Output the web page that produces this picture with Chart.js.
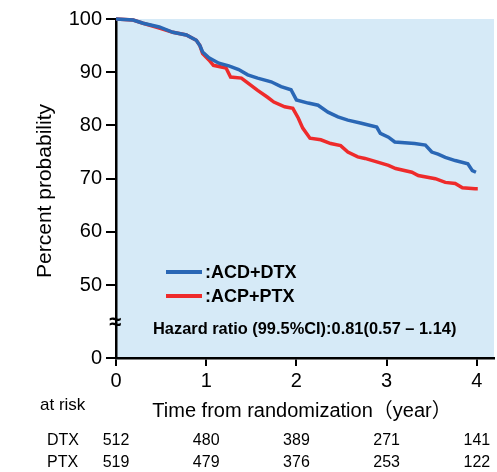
<!DOCTYPE html>
<html>
<head>
<meta charset="utf-8">
<script src="https://cdn.jsdelivr.net/npm/chart.js@4.4.0/dist/chart.umd.min.js"></script>
<style>
  html, body { margin: 0; padding: 0; background: #fff; }
  canvas { display: block; }
</style>
</head>
<body>
<canvas id="km" width="497" height="472"></canvas>
<script>
// Kaplan-Meier curves (time in years, percent surviving)
const dtxTimes = [0, 0.19, 0.30, 0.48, 0.63, 0.78, 0.89, 0.93, 0.96, 1.03, 1.14, 1.25, 1.36, 1.46, 1.57, 1.72, 1.83, 1.94, 2.00, 2.13, 2.24, 2.35, 2.46, 2.57, 2.72, 2.82, 2.89, 2.93, 3.02, 3.09, 3.31, 3.43, 3.50, 3.57, 3.65, 3.76, 3.90, 3.95, 3.99];
const dtxSurv  = [100, 99.8, 99.2, 98.5, 97.5, 97.0, 96.0, 95.0, 93.8, 92.7, 91.7, 91.2, 90.5, 89.5, 88.9, 88.2, 87.3, 86.7, 84.8, 84.2, 83.8, 82.5, 81.6, 81.0, 80.4, 80.0, 79.7, 78.5, 77.8, 76.9, 76.6, 76.3, 75.0, 74.6, 74.0, 73.4, 72.8, 71.5, 71.2];
const ptxTimes = [0, 0.19, 0.30, 0.48, 0.63, 0.78, 0.89, 0.93, 0.96, 1.03, 1.08, 1.22, 1.27, 1.39, 1.46, 1.57, 1.68, 1.75, 1.87, 1.96, 2.02, 2.07, 2.15, 2.27, 2.38, 2.49, 2.57, 2.68, 2.76, 2.90, 3.02, 3.10, 3.28, 3.35, 3.54, 3.65, 3.76, 3.84, 3.98, 4.01];
const ptxSurv  = [100, 99.8, 99.2, 98.3, 97.5, 97.0, 96.0, 95.0, 93.5, 92.3, 91.3, 90.8, 89.1, 88.9, 88.0, 86.6, 85.3, 84.4, 83.5, 83.2, 81.4, 79.5, 77.6, 77.3, 76.6, 76.2, 75.0, 74.1, 73.8, 73.1, 72.5, 71.9, 71.2, 70.6, 70.0, 69.3, 69.1, 68.3, 68.1, 68.1];

const xTicks = [0, 1, 2, 3, 4];
const yTicks = [50, 60, 70, 80, 90, 100];
const atRiskDTX = [512, 480, 389, 271, 141];
const atRiskPTX = [519, 479, 376, 253, 122];

const BREAK_ZERO = 36.3;   // where "0" sits below the axis break
const BREAK_MARK = 42.9;   // position of the break symbol
const FONT = '"Liberation Sans", Arial, sans-serif';
const BLUE = '#2a67b5';
const RED = '#ee2b2b';

function toPoints(t, s) {
    return t.map((x, i) => ({ x: x, y: s[i] }));
}

const plotBackground = {
    id: 'plotBackground',
    beforeDraw(chart) {
        const { ctx, chartArea: { left, top, right, bottom } } = chart;
        ctx.save();
        ctx.fillStyle = '#d6eaf7';
        ctx.fillRect(left, top, right - left, bottom - top);
        ctx.restore();
    }
};

const annotations = {
    id: 'annotations',
    afterDraw(chart) {
        const { ctx, scales: { x, y } } = chart;
        ctx.save();

        // legend inside plot
        ctx.lineWidth = 4;
        ctx.strokeStyle = BLUE;
        ctx.beginPath(); ctx.moveTo(166, 272); ctx.lineTo(202, 272); ctx.stroke();
        ctx.strokeStyle = RED;
        ctx.beginPath(); ctx.moveTo(166, 296); ctx.lineTo(202, 296); ctx.stroke();
        ctx.fillStyle = '#000';
        ctx.font = 'bold 18px ' + FONT;
        ctx.textAlign = 'left';
        ctx.textBaseline = 'middle';
        ctx.fillText(':ACD+DTX', 205, 273);
        ctx.fillText(':ACP+PTX', 205, 297);

        // hazard ratio
        ctx.font = 'bold 16.4px ' + FONT;
        ctx.fillText('Hazard ratio (99.5%CI):0.81(0.57 \u2013 1.14)', 153, 329);

        // axis break
        const by = y.getPixelForValue(BREAK_MARK);
        ctx.font = 'bold 22px ' + FONT;
        ctx.textAlign = 'center';
        ctx.fillText('\u2248', x.left - 1, by);

        // y title
        ctx.save();
        ctx.translate(45, 191);
        ctx.rotate(-Math.PI / 2);
        ctx.font = '21px ' + FONT;
        ctx.textAlign = 'center';
        ctx.fillText('Percent probability', 0, 0);
        ctx.restore();

        // x title
        ctx.font = '20px ' + FONT + ', "Noto Sans CJK JP"';
        ctx.textAlign = 'center';
        ctx.fillText('Time from randomization\uff08year\uff09', 302, 411);

        // at risk table
        ctx.font = '17px ' + FONT;
        ctx.textAlign = 'left';
        ctx.fillText('at risk', 40, 405);
        ctx.font = '16px ' + FONT;
        ctx.fillText('DTX', 47, 441);
        ctx.fillText('PTX', 47, 463);
        ctx.textAlign = 'center';
        xTicks.forEach((t, i) => {
            const px = x.getPixelForValue(t);
            ctx.fillText(String(atRiskDTX[i]), px, 441);
            ctx.fillText(String(atRiskPTX[i]), px, 463);
        });

        ctx.restore();
    }
};

const config = {
    type: 'line',
    data: {
        datasets: [
            {
                label: 'ACD+DTX',
                data: toPoints(dtxTimes, dtxSurv),
                borderColor: BLUE,
                borderWidth: 3.5,
                pointRadius: 0,
                tension: 0,
                fill: false,
                clip: 5
            },
            {
                label: 'ACP+PTX',
                data: toPoints(ptxTimes, ptxSurv),
                borderColor: RED,
                borderWidth: 3.5,
                pointRadius: 0,
                tension: 0,
                fill: false,
                clip: 5
            }
        ]
    },
    options: {
        responsive: false,
        animation: false,
        layout: { padding: { top: 19, right: 3, left: 0, bottom: 0 } },
        plugins: {
            legend: { display: false },
            tooltip: { enabled: false }
        },
        scales: {
            x: {
                type: 'linear',
                min: 0,
                max: 4.19,
                afterBuildTicks: (scale) => { scale.ticks = xTicks.map(v => ({ value: v })); },
                afterFit: (scale) => { scale.height = 114; },
                grid: { drawOnChartArea: false, color: '#000', lineWidth: 2, tickLength: 8 },
                border: { color: '#000', width: 2.5 },
                ticks: { color: '#000', font: { family: FONT, size: 20 }, padding: 3, maxRotation: 0 }
            },
            y: {
                type: 'linear',
                min: BREAK_ZERO,
                max: 100,
                afterBuildTicks: (scale) => {
                    scale.ticks = [{ value: BREAK_ZERO }].concat(yTicks.map(v => ({ value: v })));
                },
                afterFit: (scale) => { scale.width = 116; },
                grid: { drawOnChartArea: false, color: '#000', lineWidth: 2, tickLength: 10 },
                border: { color: '#000', width: 2.5 },
                ticks: {
                    color: '#000',
                    font: { family: FONT, size: 20 },
                    padding: 4,
                    callback: (v) => (v < 50 ? '0' : String(v))
                }
            }
        }
    },
    plugins: [plotBackground, annotations]
};

new Chart(document.getElementById('km').getContext('2d'), config);
</script>
</body>
</html>
